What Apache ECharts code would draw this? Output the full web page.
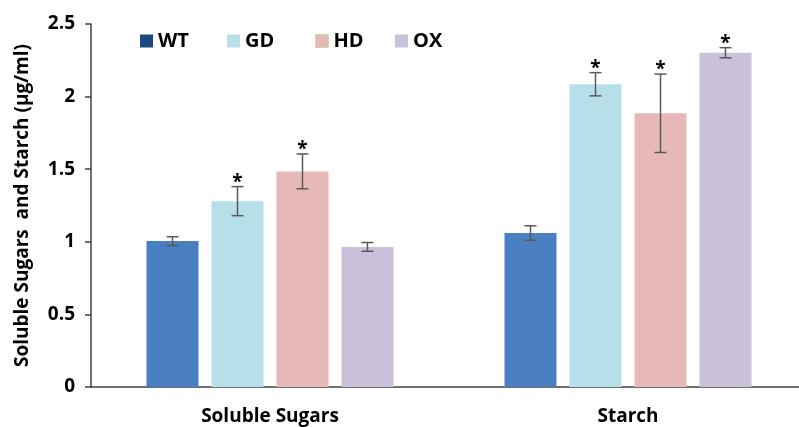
<!DOCTYPE html>
<html><head><meta charset="utf-8">
<script src="https://cdn.jsdelivr.net/npm/echarts@6/dist/echarts.min.js"></script>
<style>html,body{margin:0;padding:0;background:#fff}#c{width:799px;height:427px}</style>
</head><body><div id="c"></div>
<script>
const categories = ['Soluble Sugars', 'Starch'];
const seriesNames = ['WT', 'GD', 'HD', 'OX'];
const WT = [1.005, 1.06];
const GD = [1.28, 2.085];
const HD = [1.485, 1.885];
const OX = [0.965, 2.302];
const WT_err = [0.03, 0.05];
const GD_err = [0.10, 0.08];
const HD_err = [0.12, 0.27];
const OX_err = [0.03, 0.035];
const WT_sig = [false, false];
const GD_sig = [true, true];
const HD_sig = [true, true];
const OX_sig = [false, true];
const yTicks = [0, 0.5, 1, 1.5, 2, 2.5];

const values = [WT, GD, HD, OX];
const errs = [WT_err, GD_err, HD_err, OX_err];
const sigs = [WT_sig, GD_sig, HD_sig, OX_sig];
const barColors = ['#4a7fc1', '#b7dfea', '#e6b9b8', '#cbc0da'];
const legendColors = ['#1b4a83', '#b7dfea', '#e6b9b8', '#cbc0da'];
const legendLeft = [140, 227, 315, 395];
const FONT = '"Open Sans", sans-serif';
const BW = 52, GAP = 13;

const errData = [];
values.forEach((arr, s) => arr.forEach((v, c) => errData.push([c, v, errs[s][c], s, sigs[s][c] ? 1 : 0])));

const chart = echarts.init(document.getElementById('c'));
chart.setOption({
  animation: false,
  textStyle: { fontFamily: FONT },
  grid: { left: 91, width: 716, top: 24, bottom: 40, containLabel: false, outerBoundsMode: 'none' },
  legend: seriesNames.map((n, i) => ({
    top: 31, left: legendLeft[i], padding: 0, itemWidth: 13, itemHeight: 13, itemGap: 0, icon: 'rect', itemTextGap: 6,
    selectedMode: false,
    textStyle: { fontFamily: FONT, fontWeight: 'bold', fontSize: 20, color: '#000' },
    data: [{ name: n, itemStyle: { color: legendColors[i], borderColor: i === 2 ? '#c9d9a8' : legendColors[i], borderWidth: i === 2 ? 1 : 0 } }]
  })),
  xAxis: {
    type: 'category', data: categories,
    axisLine: { lineStyle: { color: '#404040', width: 1.5 } },
    axisTick: { alignWithLabel: true, length: 5, lineStyle: { color: '#404040', width: 1.5 } },
    axisLabel: { fontFamily: FONT, fontWeight: 'bold', fontSize: 19, color: '#000', margin: 20 }
  },
  yAxis: {
    type: 'value', min: 0, max: 2.5, interval: 0.5,
    name: 'Soluble Sugars  and Starch (µg/ml)', nameLocation: 'middle', nameGap: 59,
    nameTextStyle: { fontFamily: FONT, fontWeight: 'bold', fontSize: 19, color: '#000' },
    axisLine: { show: true, lineStyle: { color: '#404040', width: 1.5 } },
    axisTick: { show: true, inside: false, length: 6, lineStyle: { color: '#404040', width: 1.5 } },
    splitLine: { show: false },
    axisLabel: { fontFamily: FONT, fontWeight: 'bold', fontSize: 19, color: '#000', margin: 16,
      formatter: v => String(yTicks.find(t => Math.abs(t - v) < 1e-9) ?? v) }
  },
  series: seriesNames.map((n, i) => ({
    name: n, type: 'bar', data: values[i], barWidth: BW, barGap: (GAP / BW * 100) + '%',
    itemStyle: { color: barColors[i] }
  })).concat([{
    type: 'custom', name: 'err', data: errData, z: 10, silent: true,
    encode: { x: 0, y: 1 },
    renderItem: function (params, api) {
      const c = api.value(0), v = api.value(1), e = api.value(2), s = api.value(3), sig = api.value(4);
      const off = (s - 1.5) * (BW + GAP);
      const top = api.coord([c, v + e]);
      const bot = api.coord([c, v - e]);
      const x = top[0] + off;
      const w = 6;
      const style = { stroke: '#595959', lineWidth: 1.5 };
      const children = [
        { type: 'line', shape: { x1: x, y1: top[1], x2: x, y2: bot[1] }, style },
        { type: 'line', shape: { x1: x - w, y1: top[1], x2: x + w, y2: top[1] }, style },
        { type: 'line', shape: { x1: x - w, y1: bot[1], x2: x + w, y2: bot[1] }, style }
      ];
      if (sig) children.push({ type: 'text', style: { text: '*', x: x, y: top[1] + 5, textAlign: 'center', textVerticalAlign: 'bottom', fontSize: 19, fontFamily: FONT, fontWeight: 'bold', fill: '#000' } });
      return { type: 'group', children };
    }
  }])
});
</script></body></html>
